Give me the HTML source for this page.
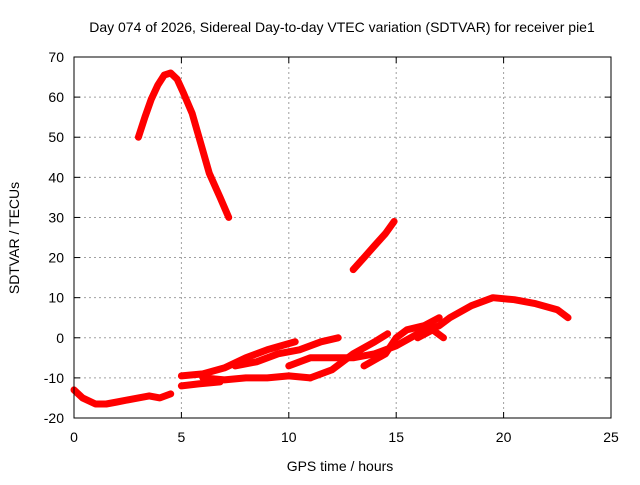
<!DOCTYPE html>
<html><head><meta charset="utf-8"><style>
body{margin:0;background:#fff}
svg text{font-family:"Liberation Sans",sans-serif;font-size:14px;fill:#000}
</style></head><body>
<svg id="c" width="640" height="480">
<rect width="640" height="480" fill="#fff"/>
<text x="342" y="32" text-anchor="middle">Day 074 of 2026, Sidereal Day-to-day VTEC variation (SDTVAR) for receiver pie1</text>
<g id="grid"></g><g id="series"></g>
<rect x="74" y="57" width="537" height="361" fill="none" stroke="#000" stroke-width="1"/>
<g id="ticks"></g>
<text x="340" y="471" text-anchor="middle">GPS time / hours</text>
<text transform="translate(19,238) rotate(-90)" text-anchor="middle">SDTVAR / TECUs</text>
</svg>
<script>
const xTicks=[0,5,10,15,20,25];
const yTicks=[-20,-10,0,10,20,30,40,50,60,70];
const sArcX=[3.0,3.3,3.6,3.9,4.2,4.5,4.8,5.1,5.5,5.9,6.3,6.8,7.2];
const sArcY=[50,55,59.5,63,65.5,66,64.5,61,56,48.5,41,35,30];
const sMidX=[13.0,13.5,14.0,14.5,14.9];
const sMidY=[17,20,23,26,29];
const s1X=[0,0.4,1,1.5,2,2.5,3,3.5,4,4.5];
const s1Y=[-13,-15,-16.5,-16.5,-16,-15.5,-15,-14.5,-15,-14];
const s2X=[5.0,5.8,6.8];
const s2Y=[-12,-11.5,-11];
const s3X=[5.0,6,7,8,9,10.3];
const s3Y=[-9.5,-9,-7.5,-5,-3,-1];
const s4X=[6,7,8,9,10,11];
const s4Y=[-10,-10.5,-10,-10,-9.5,-10];
const s5X=[7.5,8.5,9.5,10.5,11.5,12.3];
const s5Y=[-7,-6,-4,-3,-1,0];
const s6X=[10,11,12,13,14,15,16,17,17.5,18.5,19.5,20.5,21.5,22.5,23];
const s6Y=[-7,-5,-5,-5,-4,-2,1,3,5,8,10,9.5,8.5,7,5];
const s7X=[11,12,13,14,14.6];
const s7Y=[-10,-8,-4,-1,1];
const s8X=[13.5,14.5,15,15.5,16.3,17];
const s8Y=[-7,-4,0,2,3,5];
const s9X=[16,16.7,17.2];
const s9Y=[0,2,0];
const series=[[sArcX,sArcY],[sMidX,sMidY],[s1X,s1Y],[s2X,s2Y],[s3X,s3Y],[s4X,s4Y],[s5X,s5Y],[s6X,s6Y],[s7X,s7Y],[s8X,s8Y],[s9X,s9Y]];
const X0=74,X1=611,Y0=418,Y1=57;
const sx=v=>X0+(v-0)/(25-0)*(X1-X0);
const sy=v=>Y0-(v+20)/(70+20)*(Y0-Y1);
const NS="http://www.w3.org/2000/svg";
function mk(tag,attrs,parent){const e=document.createElementNS(NS,tag);for(const k in attrs)e.setAttribute(k,attrs[k]);parent.appendChild(e);return e;}
const grid=document.getElementById('grid'),ticks=document.getElementById('ticks'),ser=document.getElementById('series');
xTicks.forEach(t=>{const x=sx(t);
 if(t>0&&t<25){const g=mk('line',{x1:x,x2:x,y1:Y1,y2:Y0,stroke:'#a0a0a0','stroke-dasharray':'2,3'},grid);
 
 }
 mk('line',{x1:x,x2:x,y1:Y0,y2:Y0-6,stroke:'#000'},ticks);
 mk('line',{x1:x,x2:x,y1:Y1,y2:Y1+6,stroke:'#000'},ticks);
 const l=mk('text',{x:x,y:Y0+24,'text-anchor':'middle'},ticks);l.textContent=t;
 
 });
yTicks.forEach(t=>{const y=sy(t);
 if(t>-20&&t<70){const g=mk('line',{x1:X0,x2:X1,y1:y,y2:y,stroke:'#a0a0a0','stroke-dasharray':'2,3'},grid);
 
 }
 mk('line',{x1:X0,x2:X0+6,y1:y,y2:y,stroke:'#000'},ticks);
 mk('line',{x1:X1,x2:X1-6,y1:y,y2:y,stroke:'#000'},ticks);
 const l=mk('text',{x:X0-10,y:y+5,'text-anchor':'end'},ticks);l.textContent=t;
 
 });
series.forEach(([xs,ys])=>{
 const pts=xs.map((x,i)=>sx(x).toFixed(1)+','+sy(ys[i]).toFixed(1)).join(' ');
 const p=mk('polyline',{points:pts,fill:'none',stroke:'#ff0000','stroke-width':7,'stroke-linejoin':'round','stroke-linecap':'round'},ser);
 
 
});
</script>
</body></html>
